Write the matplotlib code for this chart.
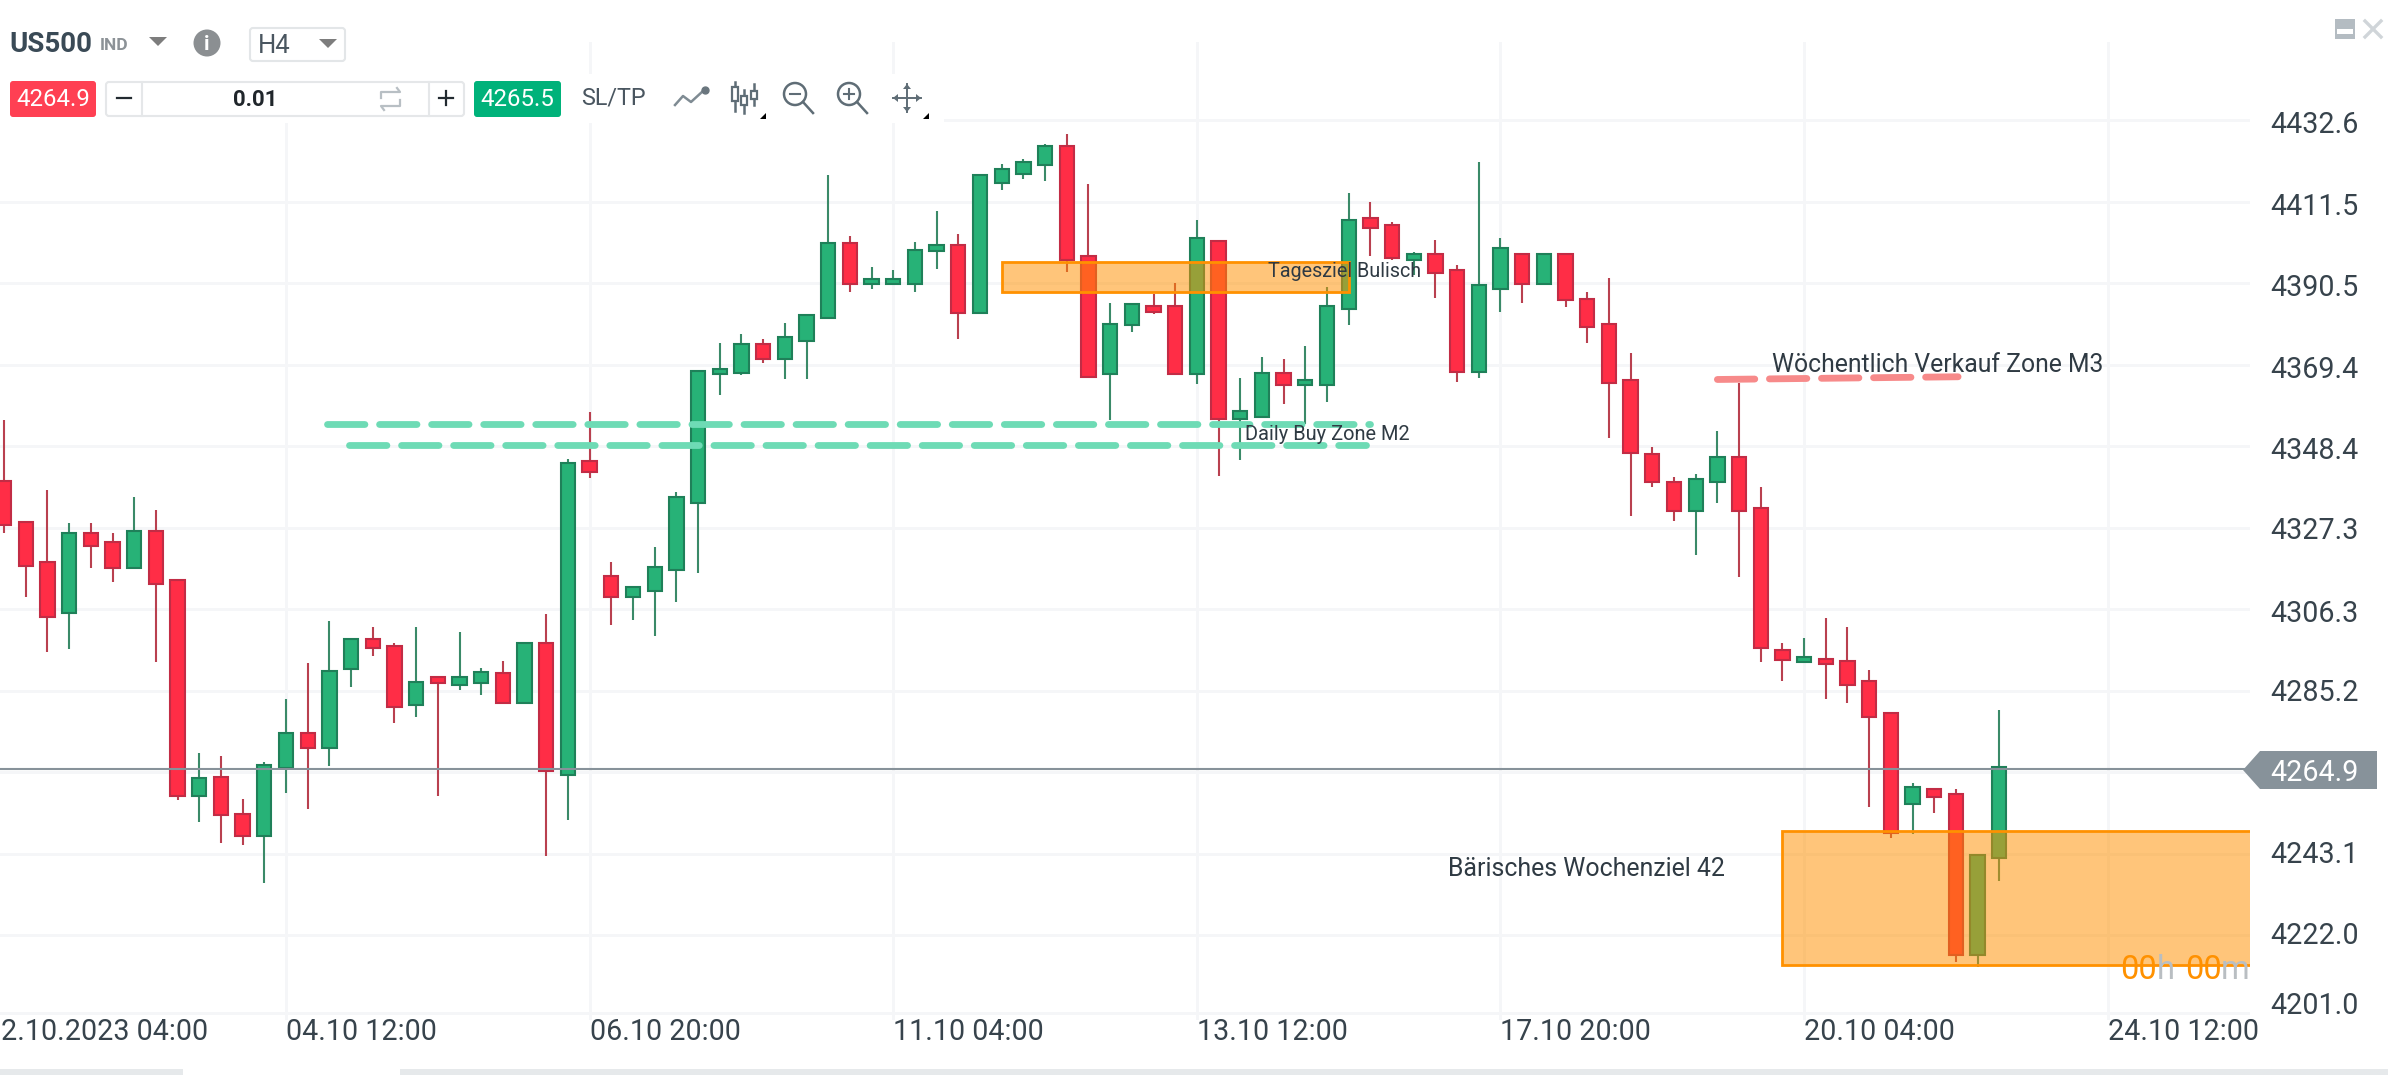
#!/usr/bin/env python3

import matplotlib
matplotlib.use("Agg")
import matplotlib.pyplot as plt
from matplotlib.patches import Rectangle, Polygon, Circle, FancyBboxPatch

plt.rcParams["font.family"] = ["Roboto", "DejaVu Sans"]

# 4h candles, left to right
opens = [
    4339.3, 4328.8, 4318.4, 4305.3, 4326.0, 4323.6, 4316.9, 4326.4, 4313.7, 4258.1,
    4263.0, 4253.2, 4247.7, 4265.2, 4274.2, 4270.4, 4290.9, 4298.5, 4296.8, 4281.5,
    4288.7, 4286.6, 4287.2, 4289.8, 4282.0, 4297.4, 4263.5, 4344.5, 4314.9, 4309.4,
    4311.0, 4316.4, 4333.8, 4366.9, 4367.4, 4374.8, 4371.0, 4375.6, 4381.5, 4400.9,
    4390.3, 4390.3, 4390.3, 4398.9, 4400.3, 4382.7, 4416.4, 4418.7, 4421.0, 4426.0,
    4397.5, 4366.9, 4379.8, 4384.7, 4384.6, 4366.9, 4401.5, 4355.4, 4356.0, 4367.2,
    4364.1, 4364.1, 4383.8, 4407.3, 4405.6, 4396.6, 4398.0, 4393.9, 4367.5, 4389.1,
    4398.0, 4390.3, 4398.0, 4386.4, 4379.9, 4365.5, 4346.3, 4339.2, 4331.5, 4339.1,
    4345.6, 4332.3, 4295.7, 4292.5, 4293.4, 4292.8, 4287.6, 4279.4, 4255.9, 4259.7,
    4258.5, 4217.0, 4242.0,
]
highs = [
    4355.1, 4328.8, 4337.0, 4328.4, 4328.4, 4326.0, 4335.3, 4331.8, 4313.7, 4269.0,
    4268.4, 4257.3, 4266.7, 4283.0, 4292.3, 4303.2, 4298.5, 4301.6, 4297.4, 4301.6,
    4288.7, 4300.4, 4291.0, 4292.8, 4297.4, 4305.0, 4345.1, 4357.3, 4318.4, 4311.9,
    4322.4, 4336.4, 4367.8, 4374.9, 4377.3, 4376.0, 4380.1, 4382.3, 4418.4, 4402.8,
    4394.6, 4394.0, 4401.0, 4409.2, 4403.3, 4418.4, 4421.4, 4422.6, 4426.5, 4428.9,
    4416.1, 4385.4, 4385.4, 4387.7, 4390.5, 4406.8, 4401.5, 4366.1, 4371.3, 4370.8,
    4374.2, 4389.4, 4413.9, 4411.5, 4406.2, 4398.6, 4401.6, 4395.2, 4421.9, 4402.2,
    4398.0, 4398.0, 4398.0, 4388.1, 4391.7, 4372.5, 4348.1, 4340.5, 4341.2, 4352.2,
    4364.7, 4337.7, 4297.6, 4298.7, 4303.9, 4301.7, 4290.5, 4279.4, 4261.4, 4259.7,
    4259.7, 4242.7, 4280.1,
]
lows = [
    4326.0, 4309.3, 4295.3, 4296.0, 4316.8, 4313.3, 4316.9, 4292.5, 4257.0, 4251.2,
    4245.9, 4245.3, 4235.5, 4258.7, 4254.7, 4265.8, 4286.1, 4294.1, 4276.8, 4278.4,
    4258.1, 4285.4, 4284.2, 4282.0, 4282.0, 4242.4, 4251.7, 4340.1, 4302.2, 4303.4,
    4299.4, 4308.0, 4315.6, 4361.6, 4366.7, 4369.8, 4365.6, 4365.7, 4381.5, 4388.3,
    4388.9, 4390.3, 4388.3, 4394.1, 4376.0, 4382.7, 4414.5, 4417.3, 4416.9, 4393.4,
    4366.3, 4355.1, 4377.9, 4382.4, 4366.9, 4364.4, 4340.6, 4344.8, 4356.0, 4359.3,
    4354.1, 4359.9, 4379.7, 4397.6, 4396.5, 4392.6, 4386.6, 4365.0, 4366.1, 4383.1,
    4385.4, 4390.3, 4384.2, 4375.1, 4350.6, 4330.2, 4337.8, 4329.0, 4320.2, 4333.6,
    4314.6, 4292.5, 4287.7, 4292.5, 4283.0, 4281.9, 4255.2, 4247.0, 4248.1, 4253.5,
    4215.1, 4213.9, 4236.0,
]
closes = [
    4328.1, 4317.5, 4304.2, 4326.0, 4322.7, 4316.9, 4326.4, 4312.8, 4258.1, 4262.6,
    4253.0, 4247.7, 4266.1, 4274.2, 4270.4, 4290.4, 4298.5, 4296.1, 4280.9, 4287.5,
    4287.2, 4288.7, 4289.9, 4282.0, 4297.4, 4264.4, 4343.9, 4341.8, 4309.4, 4311.9,
    4317.2, 4335.2, 4367.8, 4368.4, 4374.8, 4371.0, 4376.5, 4382.3, 4400.9, 4390.3,
    4391.6, 4391.6, 4399.1, 4400.3, 4382.7, 4418.4, 4420.1, 4421.9, 4426.0, 4396.6,
    4366.3, 4379.9, 4385.2, 4383.1, 4366.9, 4402.1, 4355.4, 4357.4, 4367.2, 4364.1,
    4365.5, 4384.7, 4406.8, 4404.7, 4397.1, 4398.0, 4393.2, 4367.5, 4389.9, 4399.7,
    4390.3, 4398.0, 4386.1, 4379.2, 4364.6, 4346.6, 4339.1, 4331.5, 4339.9, 4345.6,
    4331.5, 4296.1, 4293.1, 4294.0, 4292.0, 4286.7, 4278.5, 4248.3, 4260.2, 4257.6,
    4217.0, 4242.7, 4265.4,
]

last_price = 4264.9

price_labels = ["4432.6", "4411.5", "4390.5", "4369.4", "4348.4", "4327.3",
                "4306.3", "4285.2", "4243.1", "4222.0", "4201.0"]
price_grid = [4432.6, 4411.5, 4390.5, 4369.4, 4348.4, 4327.3,
              4306.3, 4285.2, 4264.2, 4243.1, 4222.0, 4201.9]
# px nudge of each price label, the labels do not sit exactly on their grid line
price_label_dy = [-5, -5, -5, -5, -5, -3, -5, -2, -1, -1, 7]

date_ticks = [-1, 13, 27, 41, 55, 69, 83, 97]
# the first label is cut by the chart edge, only this part of it shows
date_labels = ["2.10.2023 04:00", "04.10 12:00", "06.10 20:00", "11.10 04:00",
               "13.10 12:00", "17.10 20:00", "20.10 04:00", "24.10 12:00"]

# zones: left candle, right candle, low price, high price
day_zone = (46.0, 62.0, 4388.2, 4395.9)
week_zone = (82.0, 104.0, 4214.4, 4248.9)

buy_line_1 = ([14.9, 63.0], [4354.1, 4354.1])
buy_line_2 = ([15.9, 62.8], [4348.8, 4348.8])
sell_line = ([79.0, 90.1], [4365.6, 4366.3])

notes = [
    ("Tagesziel Bulisch", 58.3, 4393.6, 14.2),
    ("Daily Buy Zone M2", 57.2, 4351.5, 14.4),
    ("Wöchentlich Verkauf Zone M3", 81.5, 4369.4, 17.8),
    ("Bärisches Wochenziel 42", 66.6, 4239.0, 17.9),
]

GREEN, GREEN_EDGE, GREEN_WICK = "#27b277", "#1f8059", "#3a8a68"
RED, RED_EDGE, RED_WICK = "#ff2d46", "#c22c45", "#b9404f"
GRID = "#f5f6f8"
TEXT = "#37434c"
ICON = "#5f6d76"
ORANGE = "#ff9100"
W, H = 2388, 1075


def px_axes(fig, left, top, right, bottom):
    return fig.add_axes([left / W, 1 - bottom / H, (right - left) / W, (bottom - top) / H])


def draw_chart(ax):
    xs = list(range(len(opens)))
    up = [c >= o for o, c in zip(opens, closes)]
    ax.vlines(xs, lows, highs, colors=[GREEN_WICK if u else RED_WICK for u in up],
              linewidth=1.5, zorder=2)
    ax.bar(xs, [abs(c - o) for o, c in zip(opens, closes)],
           bottom=[min(o, c) for o, c in zip(opens, closes)], width=0.66,
           color=[GREEN if u else RED for u in up],
           edgecolor=[GREEN_EDGE if u else RED_EDGE for u in up], linewidth=1.5, zorder=3)

    for x0, x1, lo, hi in (day_zone, week_zone):
        ax.add_patch(Rectangle((x0, lo), x1 - x0, hi - lo, facecolor=(1, 0.57, 0, 0.52),
                               edgecolor=ORANGE, linewidth=2.0, zorder=4))

    for xy in (buy_line_1, buy_line_2):
        ax.plot(xy[0], xy[1], color="#6edbb5", linewidth=4.9, dashes=(5.5, 2.15),
                dash_capstyle="round", zorder=5)
    ax.plot(sell_line[0], sell_line[1], color="#f78a8a", linewidth=4.9, dashes=(5.5, 2.15),
            dash_capstyle="round", zorder=5)

    ax.axhline(last_price, color="#87929a", linewidth=1.5, zorder=6)

    for label, x, y, size in notes:
        ax.text(x, y, label, fontsize=size, color="#2f3a43", va="center", zorder=7)

    ax.set_xlim(-0.189, 103.56)
    ax.set_ylim(4200.1, 4452.8)
    ax.set_xticks([t for t in date_ticks if t >= 0])
    ax.tick_params(axis="x", length=0, labelbottom=False)
    ax.set_yticks(price_grid)
    ax.set_yticklabels([""] * len(price_grid))
    ax.tick_params(axis="y", length=0, left=False, labelleft=False)
    ax.grid(True, color=GRID, linewidth=2.1)
    ax.set_axisbelow(True)
    for s in ax.spines.values():
        s.set_visible(False)

    # labels outside the axes: x left aligned to the grid line, y right of the plot
    for t, label in zip(date_ticks, date_labels):
        dx = 19 if t < 0 else 0
        ax.annotate(label, (t, 0), xycoords=ax.get_xaxis_transform(), xytext=(dx, -12),
                    textcoords="offset pixels", fontsize=20.6, color=TEXT, va="center",
                    annotation_clip=False)
    ytrans = ax.get_yaxis_transform()
    for p, label, dy in zip([v for v in price_grid if v != 4264.2], price_labels, price_label_dy):
        ax.annotate(label, (1, p), xycoords=ytrans, xytext=(20, dy), textcoords="offset pixels",
                    fontsize=20.6, color=TEXT, va="center", annotation_clip=False)


def draw_ui(ui):
    ui.set_xlim(0, W)
    ui.set_ylim(H, 0)
    ui.axis("off")
    ui.patch.set_alpha(0)

    # panels that hide the grid behind the toolbar
    ui.add_patch(Rectangle((0, 0), 350, 74, color="white", lw=0))
    ui.add_patch(Rectangle((0, 74), 944, 49, color="white", lw=0))

    # bottom scrollbar
    ui.add_patch(Rectangle((0, 1069), 183, 6, color="#e6e9eb", lw=0))
    ui.add_patch(Rectangle((400, 1069), W - 400, 6, color="#e6e9eb", lw=0))

    # header row
    ui.text(9, 45, "US500", fontsize=20, fontweight="bold", color="#3a4a56", va="center")
    ui.text(100, 46, "IND", fontsize=12.5, fontweight="bold", color="#8c9297", va="center")
    ui.add_patch(Polygon([(149, 37), (167, 37), (158, 46)], color="#7d7d7d", lw=0))
    ui.add_patch(Circle((207, 43), 13.5, color="#8b8f92", lw=0))
    ui.text(207, 44, "i", fontsize=15, fontweight="bold", color="white", ha="center", va="center")
    ui.add_patch(FancyBboxPatch((250, 28), 95, 33, boxstyle="round,pad=0,rounding_size=3",
                                facecolor="white", edgecolor="#e3e6e8", lw=1.5))
    ui.text(258, 46, "H4", fontsize=18.5, color="#4a5660", va="center")
    ui.add_patch(Polygon([(319, 39), (337, 39), (328, 48)], color="#7d7d7d", lw=0))

    # order row
    ui.add_patch(FancyBboxPatch((10, 81), 86, 36, boxstyle="round,pad=0,rounding_size=3",
                                color="#ff4053", lw=0))
    ui.text(53, 100, "4264.9", fontsize=17.3, color="white", ha="center", va="center")
    ui.add_patch(FancyBboxPatch((106, 82), 358, 34, boxstyle="round,pad=0,rounding_size=3",
                                facecolor="white", edgecolor="#e5e7e9", lw=1.5))
    ui.plot([142, 142], [82, 116], color="#e5e7e9", lw=1.5)
    ui.plot([429, 429], [82, 116], color="#e5e7e9", lw=1.5)
    ui.plot([117, 131], [98, 98], color="#222a30", lw=1.6)
    ui.plot([439, 453], [98, 98], color="#222a30", lw=1.6)
    ui.plot([446, 446], [91, 105], color="#222a30", lw=1.6)
    ui.text(255, 100, "0.01", fontsize=16, fontweight="bold", color="#20262b", ha="center", va="center")
    ui.plot([381, 381, 400, 397], [98, 92, 92, 88], color="#b8bfc4", lw=1.6)
    ui.plot([400, 400, 381, 384], [100, 106, 106, 110], color="#b8bfc4", lw=1.6)
    ui.add_patch(FancyBboxPatch((474, 81), 87, 36, boxstyle="round,pad=0,rounding_size=3",
                                color="#00b27a", lw=0))
    ui.text(517.5, 100, "4265.5", fontsize=17.3, color="white", ha="center", va="center")
    ui.text(581, 98, "SL/TP", fontsize=16.8, color="#4a5660", va="center")

    # chart tool icons
    ui.plot([675, 683, 691, 703], [105, 96, 102, 91], color="#7f8b93", lw=1.8)
    ui.plot([705], [90], "o", color="#6a767e", ms=5)
    for cx, wt, wb, bt, bb in ((735, 82, 111, 87, 101), (744, 90, 113, 96, 105), (754, 84, 105, 91, 99)):
        ui.plot([cx, cx], [wt, wb], color=ICON, lw=1.8)
        ui.add_patch(Rectangle((cx - 3, bt), 6, bb - bt, facecolor="white", edgecolor=ICON, lw=1.6, zorder=3))
    for cx in (795, 849):
        ui.add_patch(Circle((cx, 94), 11, facecolor="none", edgecolor=ICON, lw=1.8))
        ui.plot([cx + 8, cx + 18], [102, 113], color=ICON, lw=1.8)
        ui.plot([cx - 5, cx + 5], [94, 94], color=ICON, lw=1.5)
    ui.plot([849, 849], [89, 99], color=ICON, lw=1.5)
    ui.plot([893, 921], [98, 98], color=ICON, lw=1.4)
    ui.plot([907, 907], [84, 112], color=ICON, lw=1.4)
    for tri in ([(893, 98), (898, 94), (898, 102)], [(921, 98), (916, 94), (916, 102)],
                [(907, 84), (903, 89), (911, 89)], [(907, 112), (903, 107), (911, 107)]):
        ui.add_patch(Polygon(tri, color=ICON, lw=0))
    for x in (760, 923):
        ui.add_patch(Polygon([(x, 119), (x + 6, 119), (x + 6, 113)], color="black", lw=0))

    # window buttons
    ui.add_patch(Rectangle((2335, 19), 20, 20, color="#b4bcc2", lw=0))
    ui.add_patch(Rectangle((2337, 29), 16, 5, color="white", lw=0))
    ui.plot([2365, 2381], [21, 37], color="#d0d5d9", lw=2.4)
    ui.plot([2365, 2381], [37, 21], color="#d0d5d9", lw=2.4)

    # last price tag
    ui.add_patch(Polygon([(2243, 770), (2260, 751), (2377, 751), (2377, 789), (2260, 789)],
                         color="#87929a", lw=0))
    ui.text(2270, 773, f"{last_price:.1f}", fontsize=20.6, color="white", va="center")

    # candle countdown
    for x, s, c in ((2120, "00", ORANGE), (2157, "h", "#b9bec2"), (2185, "00", ORANGE), (2221, "m", "#b9bec2")):
        ui.text(x, 970, s, fontsize=23.5, color=c, va="center", zorder=6, clip_on=False)


def main():
    fig = plt.figure(figsize=(W / 100, H / 100), dpi=100)
    ax = px_axes(fig, 0, 42, 2250, 1020)
    draw_chart(ax)

    ui = fig.add_axes([0, 0, 1, 1], zorder=10)
    draw_ui(ui)

    fig.savefig("out.png", dpi=100)


if __name__ == "__main__":
    main()
